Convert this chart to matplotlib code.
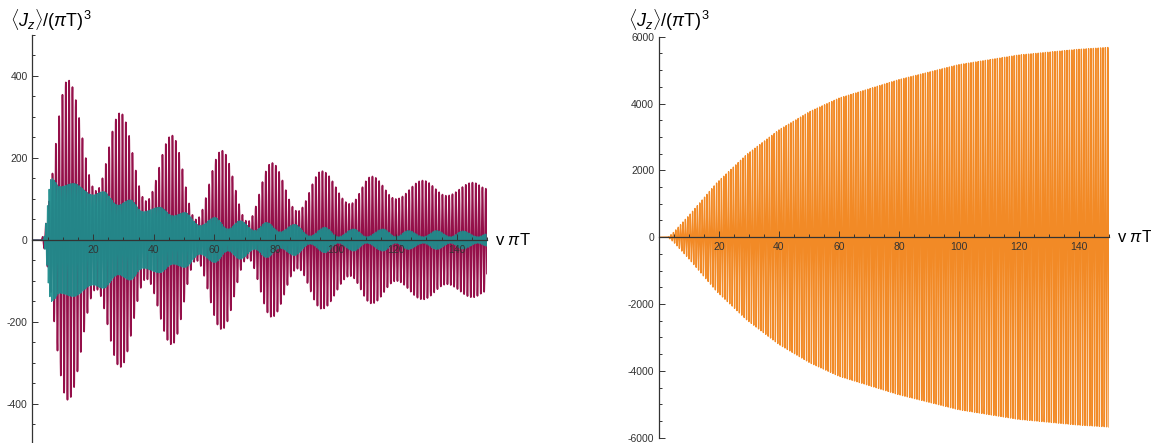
import numpy as np
import matplotlib
matplotlib.use("Agg")
import matplotlib.pyplot as plt
from matplotlib.ticker import MultipleLocator

plt.rcParams['font.family'] = ['Liberation Sans', 'DejaVu Sans']
plt.rcParams['mathtext.fontset'] = 'custom'
plt.rcParams['mathtext.rm'] = 'Liberation Sans'
plt.rcParams['mathtext.it'] = 'Liberation Sans:italic'
plt.rcParams['axes.unicode_minus'] = False

# envelope readings (x in units of v*pi*T, amplitude of <Jz>/(pi T)^3)
crimson_x = [0, 2.5, 11.7, 21, 29, 37.5, 46, 54, 62.5, 71, 79, 87.5, 95.5,
             104.8, 112, 120, 128.8, 136.7, 145.3, 150]
crimson_amp = [0, 0, 390, 120, 310, 95, 255, 50, 218, 45, 188, 70, 168,
               88, 155, 100, 145, 108, 140, 125]

teal_x = [0, 3.4, 6.3, 9.1, 13.5, 20, 23.4, 28.3, 32.2, 36.5, 42, 46.4, 50.3,
          55.3, 60.2, 64.5, 68.5, 73.4, 77.3, 81.7, 86.5, 91.6, 96.5, 100.9,
          106, 110.3, 115.7, 120, 124, 129, 133.4, 138, 142, 147, 150]
teal_amp = [0, 0, 150, 130, 138, 110, 118, 85, 98, 69, 80, 59, 67,
            35, 55, 27, 47, 23, 43, 20, 38, 10, 31, 8,
            27, 8, 27, 8, 23, 8, 23, 8, 22, 8, 15]

orange_x = [0, 3, 4.8, 10.3, 19.2, 29.2, 40, 50.3, 60, 79.8, 99.8, 119.8, 139.6, 150]
orange_amp = [0, 0, 140, 680, 1620, 2470, 3210, 3760, 4160, 4710, 5160, 5450, 5620, 5680]

crimson_period = 1.1
teal_period = 0.55
orange_period = 0.8


def smooth_env(x, px, pv):
    px = np.asarray(px, float)
    pv = np.asarray(pv, float)
    i = np.clip(np.searchsorted(px, x) - 1, 0, len(px) - 2)
    t = np.clip((x - px[i]) / (px[i + 1] - px[i]), 0, 1)
    return pv[i] + (pv[i + 1] - pv[i]) * (1 - np.cos(np.pi * t)) / 2


x = np.linspace(0, 150, 40000)
y_crimson = smooth_env(x, crimson_x, crimson_amp) * np.cos(2 * np.pi * x / crimson_period)
y_teal = smooth_env(x, teal_x, teal_amp) * np.cos(2 * np.pi * x / teal_period)
y_orange = np.interp(x, orange_x, orange_amp) * np.cos(2 * np.pi * x / orange_period)

fig = plt.figure(figsize=(11.51, 4.43), dpi=100)
ax1 = fig.add_axes([0.0282, -0.0045, 0.3949, 0.9255])
ax2 = fig.add_axes([0.5725, 0.012, 0.391, 0.9052])

ax1.plot(x, y_crimson, color="#95104a", lw=1.2)
ax1.plot(x, y_teal, color="#1e8c8c", lw=0.8, alpha=0.95)
ax2.plot(x, y_orange, color="#f28a26", lw=0.95)

for ax, ylim, major, minor in [(ax1, 500, 200, 50), (ax2, 6000, 2000, 500)]:
    ax.set_axisbelow(False)
    ax.set_xlim(0, 150)
    ax.set_ylim(-ylim, ylim)
    ax.spines['left'].set_position(('data', 0))
    ax.spines['bottom'].set_position(('data', 0))
    ax.spines['top'].set_visible(False)
    ax.spines['right'].set_visible(False)
    for s in ('left', 'bottom'):
        ax.spines[s].set_color('#333333')
        ax.spines[s].set_linewidth(0.9)
        ax.spines[s].set_zorder(5)
    ax.xaxis.set_major_locator(MultipleLocator(20))
    ax.xaxis.set_minor_locator(MultipleLocator(5))
    ax.yaxis.set_major_locator(MultipleLocator(major))
    ax.yaxis.set_minor_locator(MultipleLocator(minor))
    ax.tick_params(which='both', direction='in', color='#333333', labelcolor='#333333',
                   labelsize=7.5, width=0.7)
    ax.tick_params(which='major', length=4)
    ax.tick_params(which='minor', length=2)
    ax.set_xticks([t for t in range(20, 150, 20)])
    ax.text(1.018, 0, r'v $\pi$T', transform=ax.get_yaxis_transform(),
            fontsize=12, va='center', ha='left')

fig.text(0.009, 0.955, r'$\langle J_z\rangle/(\pi \mathrm{T})^3$', fontsize=13, va='center')
fig.text(0.546, 0.955, r'$\langle J_z\rangle/(\pi \mathrm{T})^3$', fontsize=13, va='center')

fig.savefig("out.png", dpi=100)
